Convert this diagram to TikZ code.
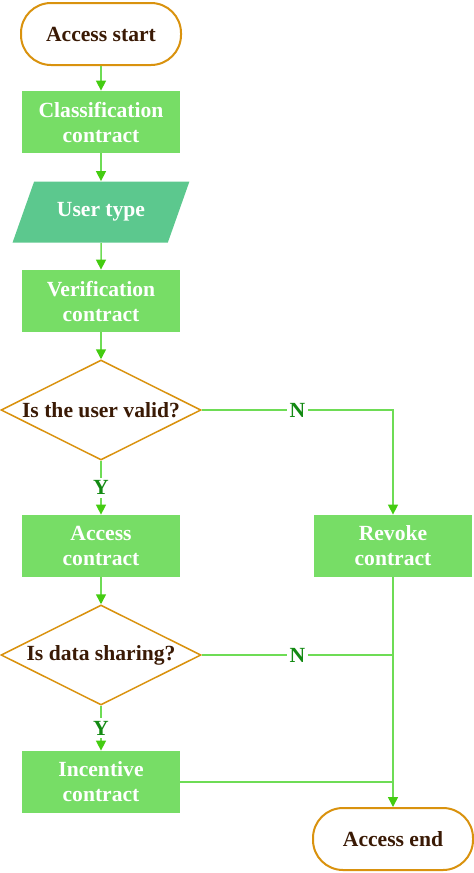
\documentclass[tikz,border=0pt]{standalone}
\usepackage{fontspec}
\setmainfont{Liberation Serif}
\usetikzlibrary{arrows.meta,shapes.geometric}
\definecolor{boxgreen}{HTML}{77DD66}
\definecolor{datagreen}{HTML}{5CC88E}
\definecolor{linegreen}{HTML}{6EDC55}
\definecolor{tipgreen}{HTML}{44CC11}
\definecolor{termorange}{HTML}{D9920E}
\definecolor{termtext}{HTML}{3A1A05}
\definecolor{labelgreen}{HTML}{138A13}

\begin{document}
\begin{tikzpicture}[x=0.5pt,y=-0.5pt,
  font=\fontsize{10.8}{12.5}\selectfont\bfseries,
  term/.style={draw=termorange,line width=1pt,fill=white,rounded corners=15pt,
    minimum width=80pt,minimum height=31pt,text=termtext},
  proc/.style={fill=boxgreen,minimum width=79pt,minimum height=31pt,text=white,align=center},
  io/.style={trapezium,trapezium left angle=63,trapezium right angle=117,
    trapezium stretches=true,fill=datagreen,minimum width=89pt,minimum height=30.5pt,text=white},
  decide/.style={diamond,aspect=2,draw=termorange,line width=0.75pt,inner sep=0pt,
    minimum width=100pt,minimum height=50pt,text=termtext},
  flow/.style={draw=linegreen,line width=0.75pt,-{Triangle[width=5pt,length=5pt,color=tipgreen]}},
  joinline/.style={draw=linegreen,line width=0.75pt},
  yn/.style={fill=white,text=labelgreen,inner sep=1.5pt}]
  \useasboundingbox (0,0) rectangle (474,873);
  % left column
  \node[term] (start) at (101,34) {Access start};
  \node[proc] (classify) at (101,122) {Classification\\contract};
  \node[io] (utype) at (101,212) {User type};
  \node[proc] (verify) at (101,301) {Verification\\contract};
  \node[decide] (valid) at (101,410) {Is the user valid?};
  \node[proc] (access) at (101,546) {Access\\contract};
  \node[decide] (share) at (101,655) {Is data sharing?};
  \node[proc] (incent) at (101,782) {Incentive\\contract};
  % right column
  \node[proc] (revoke) at (393,546) {Revoke\\contract};
  \node[term] (finish) at (393,839) {Access end};
  % connectors
  \draw[flow] (start) -- (classify);
  \draw[flow] (classify) -- (utype);
  \draw[flow] (utype) -- (verify);
  \draw[flow] (verify) -- (valid);
  \draw[flow] (valid) -- node[yn] {Y} (access);
  \draw[flow] (valid.east) -| node[yn,pos=0.25] {N} (revoke);
  \draw[flow] (access) -- (share);
  \draw[flow] (share) -- node[yn] {Y} (incent);
  \draw[joinline] (share.east) -- node[yn] {N} (share.east -| revoke.south);
  \draw[joinline] (incent.east) -- (incent.east -| revoke.south);
  \draw[flow] (revoke) -- (finish);
\end{tikzpicture}
\end{document}
